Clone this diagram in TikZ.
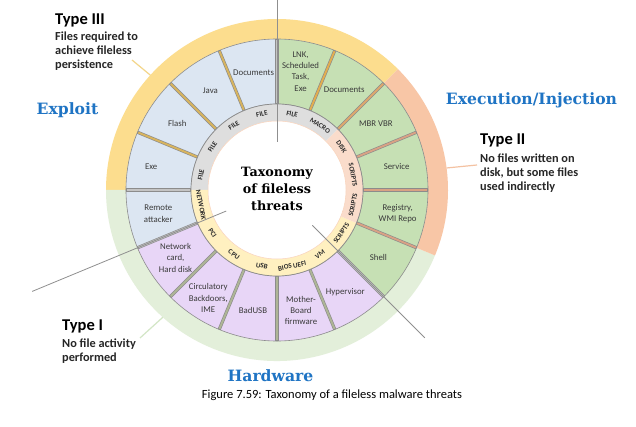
\documentclass[tikz,border=0pt]{standalone}
\usepackage{fontspec}
\setmainfont{Carlito}
\newfontfamily\slab{DejaVu Serif}
\definecolor{oyellow}{HTML}{FCDD8E}
\definecolor{oorange}{HTML}{F8C6A6}
\definecolor{ogreen}{HTML}{E3EFDA}
\definecolor{cblue}{HTML}{DCE6F2}
\definecolor{cgreen}{HTML}{C6E0B4}
\definecolor{cpurple}{HTML}{E8D6F7}
\definecolor{igray}{HTML}{DEDEDE}
\definecolor{ipeach}{HTML}{FADCCB}
\definecolor{icream}{HTML}{FFF0C0}
\definecolor{cellline}{HTML}{8C8C8C}
\definecolor{divgray}{HTML}{8F8F8F}
\definecolor{septan}{HTML}{D8B45E}
\definecolor{sepgold}{HTML}{E3AE4E}
\definecolor{sepor}{HTML}{DDA86C}
\definecolor{seppeach}{HTML}{D9A284}
\definecolor{seppur}{HTML}{AEB596}
\definecolor{sepgray}{HTML}{C4C4C4}
\definecolor{bluetitle}{HTML}{1F74C4}
\definecolor{celltxt}{HTML}{3A3A3A}
\definecolor{ringtxt}{HTML}{2A2A2A}
\definecolor{ptyellow}{HTML}{F3D68A}
\definecolor{ptorange}{HTML}{F4C2A2}
\definecolor{ptgreen}{HTML}{D3E6C6}
\newcommand\sect[5][]{\path[#1] (#2:#4) arc[start angle=#2,end angle=#3,radius=#4] -- (#3:#5) arc[start angle=#3,end angle=#2,radius=#5] -- cycle;}
\begin{document}
\begin{tikzpicture}[x=1pt,y=1pt,
  cell/.style={draw=cellline, line width=0.6pt},
  celltext/.style={font=\fontsize{8.8}{11.3}\selectfont, text=celltxt, align=center, inner sep=0pt},
  ringtext/.style={font=\bfseries\fontsize{7}{8}\selectfont, text=ringtxt, inner sep=0pt},
  divline/.style={draw=divgray, line width=0.8pt},
  typehead/.style={font=\bfseries\fontsize{16.5}{19}\selectfont, text=black, inner sep=0pt, anchor=base west},
  typebody/.style={font=\bfseries\fontsize{12.3}{14}\selectfont, text=black!85, inner sep=0pt, anchor=base west},
  bluelabel/.style={font=\slab\bfseries\fontsize{15.6}{18}\selectfont, text=bluetitle, inner sep=0pt, anchor=base},
  ptr/.style={line width=1.2pt}
]
\useasboundingbox (0,0) rectangle (636,426);
\fill[white] (0,0) rectangle (636,426);
\begin{scope}[shift={(277,236)}]
  % outer ring
  \sect[fill=oyellow]{45}{180}{151}{171}
  \sect[fill=ogreen]{180}{337.5}{151}{171}
  \sect[fill=oorange]{-22.5}{45}{151}{171}
  % cells
  \foreach \i/\cc in {0/cgreen,1/cgreen,2/cgreen,3/cgreen,4/cgreen,5/cgreen,
                      6/cpurple,7/cpurple,8/cpurple,9/cpurple,10/cpurple,
                      11/cblue,12/cblue,13/cblue,14/cblue,15/cblue}{
    \pgfmathsetmacro\aa{90-22.5*\i}
    \pgfmathsetmacro\ab{\aa-22.5}
    \sect[fill=\cc,cell]{\aa}{\ab}{86}{151}
  }
  % separators
  \foreach \a/\sc in {90/sepgray,67.5/sepgold,45/sepor,22.5/seppeach,0/seppeach,-22.5/seppeach,
                      -45/sepgray,-67.5/seppur,-90/seppur,-112.5/seppur,-135/seppur,
                      -157.5/sepgray,180/sepgray,157.5/septan,135/septan,112.5/septan}{
    \draw[cellline, line width=3.2pt] (\a:86) -- (\a:151);
    \draw[\sc, line width=1.9pt] (\a:86.8) -- (\a:150.2);
  }
  % inner ring
  \sect[fill=igray]{45}{180}{69}{86}
  \sect[fill=icream]{180}{337.5}{69}{86}
  \sect[fill=ipeach]{-22.5}{45}{69}{86}
  \draw[cellline, line width=0.7pt] (0,0) circle[radius=86];
  \fill[white] (0,0) circle[radius=69];
  \draw[oorange!80, line width=0.5pt] (0,0) circle[radius=69];
  % ring labels
  \foreach \a/\t [count=\k] in {78.75/FILE,56.25/MACRO,33.75/DISK,11.25/SCRIPTS,-11.25/SCRIPTS,
      -33.75/SCRIPTS,-56.25/VM,-78.75/BIOS UEFI,-101.25/USB,-123.75/CPU,-146.25/PCI,
      -168.75/NETWORK,168.75/FILE,146.25/FILE,123.75/FILE,101.25/FILE}{
    \pgfmathsetmacro\rot{\a>0 ? \a-90 : \a+90}
    \node[ringtext, rotate=\rot] (ring\k) at (\a:77.5) {\t};
  }
  % cell labels
  \node[celltext] (lnk)   at (78.75:121)  {LNK,\\Scheduled\\Task,\\Exe};
  \node[celltext] (docg)  at (56.25:121)  {Documents};
  \node[celltext] (mbr)   at (33.75:119)  {MBR VBR};
  \node[celltext] (serv)  at (11.25:122)  {Service};
  \node[celltext] (reg)   at (-11.25:123) {Registry,\\WMI Repo};
  \node[celltext] (shell) at (-33.75:122) {Shell};
  \node[celltext] (hyp)   at (-56.25:123) {Hypervisor};
  \node[celltext] (mob)   at (-78.75:123) {Mother-\\Board\\firmware};
  \node[celltext] (busb)  at (-101.25:123){BadUSB};
  \node[celltext] (circ)  at (-122.5:128) {Circulatory\\Backdoors,\\IME};
  \node[celltext] (netc)  at (-146.25:122){Network\\card,\\Hard disk};
  \node[celltext] (rem)   at (-168.75:121){Remote\\attacker};
  \node[celltext] (exe)   at (169.5:128)  {Exe};
  \node[celltext] (flash) at (146.25:120) {Flash};
  \node[celltext] (java)  at (123.75:120) {Java};
  \node[celltext] (docb)  at (101.25:120) {Documents};
  % division lines
  \coordinate (d1a) at (90:48);     \coordinate (d1b) at (90:190);
  \coordinate (d2a) at (-45:50);    \coordinate (d2b) at (-45:209);
  \coordinate (d3a) at (202.5:55);  \coordinate (d3b) at (202.5:265);
  \draw[divline] (d1a) -- (d1b);
  \draw[divline] (d2a) -- (d2b);
  \draw[divline] (d3a) -- (d3b);
  % pointer lines
  \coordinate (p3a) at (137.8:171); \coordinate (p3b) at (-145,130);
  \coordinate (p2a) at (7.4:171);   \coordinate (p2b) at (200,25);
  \coordinate (p1a) at (228.1:171); \coordinate (p1b) at (-137,-148);
  \draw[ptr, ptyellow] (p3a) -- (p3b);
  \draw[ptr, ptorange] (p2a) -- (p2b);
  \draw[ptr, ptgreen] (p1a) -- (p1b);
  % center
  \node[font=\slab\bfseries\fontsize{12.8}{17}\selectfont, align=center, inner sep=0pt] (center) at (0,1) {Taxonomy\\of fileless\\threats};
\end{scope}
% category labels
\node[bluelabel] (exploit) at (67.5,311) {Exploit};
\node[bluelabel] (exec) at (531.5,321) {Execution/Injection};
\node[bluelabel] (hw) at (270.5,45) {Hardware};
% type texts
\node[typehead] (t3h) at (55,401) {Type III};
\node[typebody] (t3a) at (55,385) {Files required to};
\node[typebody] (t3b) at (55,371) {achieve fileless};
\node[typebody] (t3c) at (55,357) {persistence};
\node[typehead] (t2h) at (480,281) {Type II};
\node[typebody] (t2a) at (480,263) {No files written on};
\node[typebody] (t2b) at (480,249) {disk, but some files};
\node[typebody] (t2c) at (480,235) {used indirectly};
\node[typehead] (t1h) at (62,96) {Type I};
\node[typebody] (t1a) at (62,79) {No file activity};
\node[typebody] (t1b) at (62,65) {performed};
% caption
\node[font=\fontsize{12.5}{14}\selectfont, inner sep=0pt, anchor=base] (cap) at (332,28) {Figure 7.59: Taxonomy of a fileless malware threats};
\end{tikzpicture}
\end{document}
